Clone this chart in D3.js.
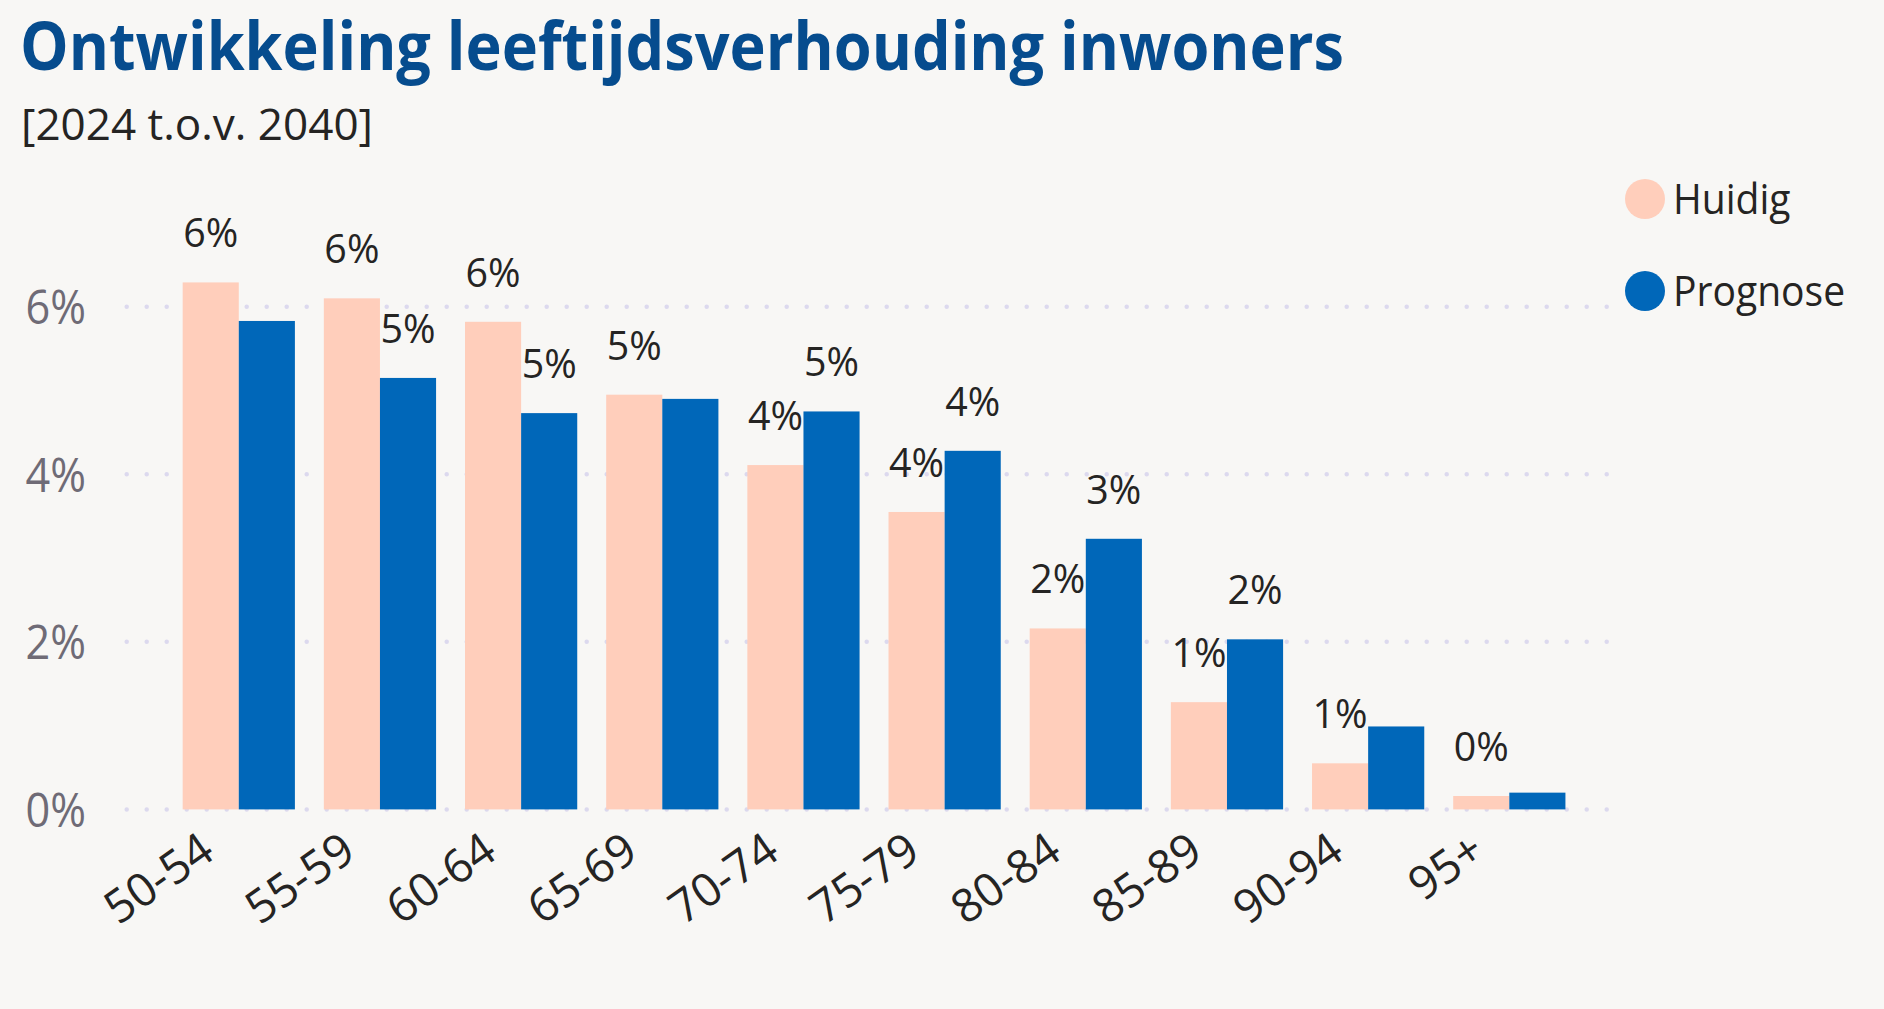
<!DOCTYPE html>
<html>
<head>
<meta charset="utf-8">
<script src="https://cdn.jsdelivr.net/npm/d3@7"></script>
<style>
    body { margin: 0; background: #f8f7f5; }
    svg { display: block; font-family: "Open Sans", "Noto Sans", sans-serif; }
</style>
</head>
<body>
<div id="chart"></div>
<script>
const ageGroups = ['50-54', '55-59', '60-64', '65-69', '70-74', '75-79', '80-84', '85-89', '90-94', '95+'];
const seriesNames = ['Huidig', 'Prognose'];
const huidig = [0.0629, 0.0610, 0.0582, 0.0495, 0.0411, 0.0355, 0.0216, 0.0128, 0.0055, 0.0016];
const prognose = [0.0583, 0.0515, 0.0473, 0.0490, 0.0475, 0.0428, 0.0323, 0.0203, 0.0099, 0.0020];
const yTicks = [0, 0.02, 0.04, 0.06];
const seriesColors = ['#ffcebb', '#0067b9'];

document.addEventListener('DOMContentLoaded', function () {
    const width = 1884;
    const height = 1009;

    // squeeze text a bit, the original font is narrower than Open Sans
    function squeeze(sel, k) {
        sel.each(function () {
            const w = this.getComputedTextLength();
            d3.select(this).attr('textLength', w * k).attr('lengthAdjust', 'spacingAndGlyphs');
        });
    }

    const rows = ageGroups.map((g, i) => ({ group: g, values: [huidig[i], prognose[i]] }));

    const x = d3.scaleBand()
        .domain(ageGroups)
        .range([168.2, 1579.9])
        .paddingInner(0.205)
        .paddingOuter(0.1025);

    const xSub = d3.scaleBand()
        .domain(seriesNames)
        .range([0, x.bandwidth()]);

    const y = d3.scaleLinear()
        .domain([0, 0.07])
        .range([809.4, 809.4 - 7 * 83.78]);

    const color = d3.scaleOrdinal().domain(seriesNames).range(seriesColors);
    const fmt = d3.format('.0%');

    const svg = d3.select('#chart')
        .append('svg')
        .attr('width', width)
        .attr('height', height);

    svg.append('rect').attr('width', width).attr('height', height).attr('fill', '#f8f7f5');

    // title
    svg.append('text')
        .attr('x', 20)
        .attr('y', 70)
        .attr('font-size', 66)
        .attr('font-weight', 700)
        .attr('fill', '#064c8e')
        .attr('textLength', 1324)
        .attr('lengthAdjust', 'spacingAndGlyphs')
        .text('Ontwikkeling leeftijdsverhouding inwoners');

    svg.append('text')
        .attr('x', 21)
        .attr('y', 140)
        .attr('font-size', 44)
        .attr('fill', '#252423')
        .attr('textLength', 352)
        .attr('lengthAdjust', 'spacingAndGlyphs')
        .text('[2024 t.o.v. 2040]');

    // dotted gridlines
    svg.append('g')
        .selectAll('line')
        .data(yTicks)
        .enter().append('line')
        .attr('x1', 126.7)
        .attr('x2', 1610)
        .attr('y1', d => y(d))
        .attr('y2', d => y(d))
        .attr('stroke', '#dcd9ee')
        .attr('stroke-width', 4.5)
        .attr('stroke-linecap', 'round')
        .attr('stroke-dasharray', '0 20');

    const yLabels = svg.append('g')
        .selectAll('text')
        .data(yTicks)
        .enter().append('text')
        .attr('x', 86)
        .attr('y', d => y(d))
        .attr('dy', '0.36em')
        .attr('text-anchor', 'end')
        .attr('font-size', 48)
        .attr('fill', '#6f6b76')
        .text(d => fmt(d));
    squeeze(yLabels, 0.9);

    // bars
    const group = svg.append('g')
        .selectAll('g')
        .data(rows)
        .enter().append('g')
        .attr('transform', d => `translate(${x(d.group)},0)`);

    group.selectAll('rect')
        .data(d => d.values.map((v, i) => ({ name: seriesNames[i], value: v })))
        .enter().append('rect')
        .attr('x', d => xSub(d.name))
        .attr('y', d => y(d.value))
        .attr('width', xSub.bandwidth())
        .attr('height', d => y(0) - y(d.value))
        .attr('fill', d => color(d.name));

    // data labels, prognose label is dropped when it would collide with huidig
    const labels = group.selectAll('text')
        .data(d => d.values.map((v, i) => ({ name: seriesNames[i], value: v, other: d.values[1 - i] })))
        .enter().append('text')
        .filter(d => d.name === 'Huidig' || Math.abs(y(d.value) - y(d.other)) > 45)
        .attr('x', d => xSub(d.name) + xSub.bandwidth() / 2)
        .attr('y', d => y(d.value) - 35)
        .attr('text-anchor', 'middle')
        .attr('font-size', 41)
        .attr('fill', '#252423')
        .text(d => fmt(d.value));
    squeeze(labels, 0.96);

    // x axis labels
    svg.append('g')
        .selectAll('text')
        .data(ageGroups)
        .enter().append('text')
        .attr('text-anchor', 'end')
        .attr('transform', d => `translate(${x(d) + x.bandwidth() / 2 - 22},857) rotate(-35)`)
        .attr('font-size', 46)
        .attr('fill', '#252423')
        .text(d => d);

    // legend
    const legend = svg.append('g')
        .selectAll('g')
        .data(seriesNames)
        .enter().append('g')
        .attr('transform', (d, i) => `translate(1645,${199 + i * 92})`);

    legend.append('circle')
        .attr('r', 20)
        .attr('fill', d => color(d));

    const legendText = legend.append('text')
        .attr('x', 28)
        .attr('y', 15)
        .attr('font-size', 42)
        .attr('fill', '#252423')
        .text(d => d);
    squeeze(legendText, 0.93);
});
</script>
</body>
</html>
